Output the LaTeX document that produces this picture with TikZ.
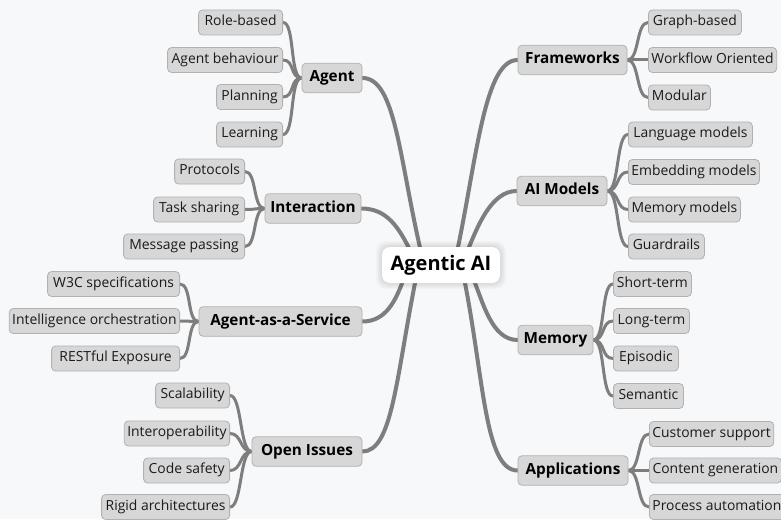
\documentclass[tikz,border=0pt]{standalone}
\usepackage{fontspec}
\setmainfont{Open Sans}
\pgfdeclarelayer{canvas}
\pgfdeclarelayer{background}
\pgfsetlayers{canvas,background,main}

\definecolor{bg}{HTML}{F7F8FA}
\definecolor{boxfill}{HTML}{D7D7D7}
\definecolor{boxline}{HTML}{B1B1B1}
\definecolor{wire}{HTML}{7E7E7E}
\definecolor{ink}{HTML}{1A1A1A}

\begin{document}
\begin{tikzpicture}[x=1pt,y=-1pt,
  leaf/.style={draw=boxline, fill=boxfill, line width=0.8pt, rounded corners=4pt,
    text=ink, font=\fontsize{13.9}{16}\selectfont, minimum height=25pt,
    inner xsep=3pt, inner ysep=0pt, text height=9.6pt, text depth=3.1pt},
  topic/.style={draw=boxline, fill=boxfill, line width=0.8pt, rounded corners=4pt,
    text=black, font=\bfseries\fontsize{15.3}{18}\selectfont, minimum height=29.5pt,
    inner xsep=3pt, inner ysep=0pt, text height=11.3pt, text depth=3.7pt},
  root/.style={fill=white, rounded corners=8pt, text=black,
    font=\bfseries\fontsize{20}{24}\selectfont, minimum width=118pt, minimum height=36pt,
    inner ysep=0pt, text height=14.5pt, text depth=4.5pt},
  glow/.style={fill=black, fill opacity=0.018, rounded corners=10pt},
  trunk/.style={draw=wire, line width=4pt, line cap=round},
  twig/.style={draw=wire, line width=3pt, line cap=round}
]
\useasboundingbox (0,0) rectangle (781,519);
\begin{pgfonlayer}{canvas}
  \fill[bg] (0,0) rectangle (781,519);
\end{pgfonlayer}

% soft halo round the centre box
\foreach \g in {1,...,6}
  \fill[glow] (382-\g,247-\g) rectangle (500+\g,283+\g);

% centre
\node[root] (root) at (441,265) {Agentic AI};

% left branches
\node[topic, minimum width=60pt]  (agent) at (332,78) {Agent};
\node[leaf, anchor=east, minimum width=84pt]  (a1) at (283,22.5) {Role-based};
\node[leaf, anchor=east, minimum width=115pt] (a2) at (283,60) {Agent behaviour};
\node[leaf, anchor=east, minimum width=66pt]  (a3) at (283,97) {Planning};
\node[leaf, anchor=east, minimum width=66pt]  (a4) at (283,134.5) {Learning};

\node[topic, minimum width=96pt]  (inter) at (313,208.5) {Interaction};
\node[leaf, anchor=east, minimum width=70pt]  (i1) at (245,171.5) {Protocols};
\node[leaf, anchor=east, minimum width=91pt]  (i2) at (245,209.5) {Task sharing};
\node[leaf, anchor=east, minimum width=121pt] (i3) at (245,246.5) {Message passing};

\node[topic, minimum width=163pt] (aaas) at (280.5,321.5) {Agent-as-a-Service};
\node[leaf, anchor=east, minimum width=132pt] (s1) at (180,284) {W3C specifications};
\node[leaf, anchor=east, minimum width=168pt] (s2) at (180,321) {Intelligence orchestration};
\node[leaf, anchor=east, minimum width=128pt] (s3) at (180,358.5) {RESTful Exposure};

\node[topic, minimum width=110pt] (open) at (307,451.5) {Open Issues};
\node[leaf, anchor=east, minimum width=74pt]  (o1) at (230,395.5) {Scalability};
\node[leaf, anchor=east, minimum width=103pt] (o2) at (230,433.5) {Interoperability};
\node[leaf, anchor=east, minimum width=86pt]  (o3) at (230,470.5) {Code safety};
\node[leaf, anchor=east, minimum width=128pt] (o4) at (230,507) {Rigid architectures};

% right branches
\node[topic, minimum width=109pt] (frame) at (572.5,60) {Frameworks};
\node[leaf, anchor=west, minimum width=93pt]  (f1) at (648,22.5) {Graph-based};
\node[leaf, anchor=west, minimum width=127pt] (f2) at (648,60) {Workflow Oriented};
\node[leaf, anchor=west, minimum width=62pt]  (f3) at (648,97.5) {Modular};

\node[topic, minimum width=90pt]  (models) at (562,191) {AI Models};
\node[leaf, anchor=west, minimum width=124pt] (m1) at (628,134.5) {Language models};
\node[leaf, anchor=west, minimum width=131pt] (m2) at (628,172) {Embedding models};
\node[leaf, anchor=west, minimum width=112pt] (m3) at (628,209.5) {Memory models};
\node[leaf, anchor=west, minimum width=76pt]  (m4) at (628,246.5) {Guardrails};

\node[topic, minimum width=75pt]  (memory) at (555.5,340) {Memory};
\node[leaf, anchor=west, minimum width=78pt]  (r1) at (613,284) {Short-term};
\node[leaf, anchor=west, minimum width=76pt]  (r2) at (613,321) {Long-term};
\node[leaf, anchor=west, minimum width=65pt]  (r3) at (613,358.5) {Episodic};
\node[leaf, anchor=west, minimum width=70pt]  (r4) at (613,396) {Semantic};

\node[topic, minimum width=110pt] (apps) at (573,470.5) {Applications};
\node[leaf, anchor=west, minimum width=124pt] (p1) at (649,434) {Customer support};
\node[leaf, anchor=west, minimum width=132pt] (p2) at (649,470.5) {Content generation};
\node[leaf, anchor=west, minimum width=132pt] (p3) at (649,507) {Process automation};

% where the trunks meet the centre box
\coordinate (tAgent)  at (421,252);
\coordinate (tInter)  at (411,252);
\coordinate (tFrame)  at (457,252);
\coordinate (tModels) at (467,252);
\coordinate (tAaas)   at (404,278);
\coordinate (tOpen)   at (416,278);
\coordinate (tMemory) at (473,278);
\coordinate (tApps)   at (464,278);

\begin{pgfonlayer}{background}
  % trunks
  \draw[trunk] (agent.east)  .. controls +(33,0)  and +(-22,-95) .. (tAgent);
  \draw[trunk] (inter.east)  .. controls +(26,0)  and +(-12,-24) .. (tInter);
  \draw[trunk] (aaas.east)   .. controls +(24,0)  and +(-8,22)   .. (tAaas);
  \draw[trunk] (open.east)   .. controls +(30,0)  and +(-20,100) .. (tOpen);
  \draw[trunk] (frame.west)  .. controls +(-33,0) and +(20,-95)  .. (tFrame);
  \draw[trunk] (models.west) .. controls +(-26,0) and +(10,-24)  .. (tModels);
  \draw[trunk] (memory.west) .. controls +(-26,0) and +(10,24)   .. (tMemory);
  \draw[trunk] (apps.west)   .. controls +(-33,0) and +(20,100)  .. (tApps);

  % twigs, left side
  \foreach \leafnode in {a1,a2,a3,a4}
    \draw[twig] (\leafnode.east) .. controls +(12,0) and +(-12,0) .. (agent.west);
  \foreach \leafnode in {i1,i2,i3}
    \draw[twig] (\leafnode.east) .. controls +(12,0) and +(-12,0) .. (inter.west);
  \foreach \leafnode in {s1,s2,s3}
    \draw[twig] (\leafnode.east) .. controls +(12,0) and +(-12,0) .. (aaas.west);
  \foreach \leafnode in {o1,o2,o3,o4}
    \draw[twig] (\leafnode.east) .. controls +(12,0) and +(-12,0) .. (open.west);

  % twigs, right side
  \foreach \leafnode in {f1,f2,f3}
    \draw[twig] (\leafnode.west) .. controls +(-12,0) and +(12,0) .. (frame.east);
  \foreach \leafnode in {m1,m2,m3,m4}
    \draw[twig] (\leafnode.west) .. controls +(-12,0) and +(12,0) .. (models.east);
  \foreach \leafnode in {r1,r2,r3,r4}
    \draw[twig] (\leafnode.west) .. controls +(-12,0) and +(12,0) .. (memory.east);
  \foreach \leafnode in {p1,p2,p3}
    \draw[twig] (\leafnode.west) .. controls +(-12,0) and +(12,0) .. (apps.east);
\end{pgfonlayer}
\end{tikzpicture}
\end{document}
